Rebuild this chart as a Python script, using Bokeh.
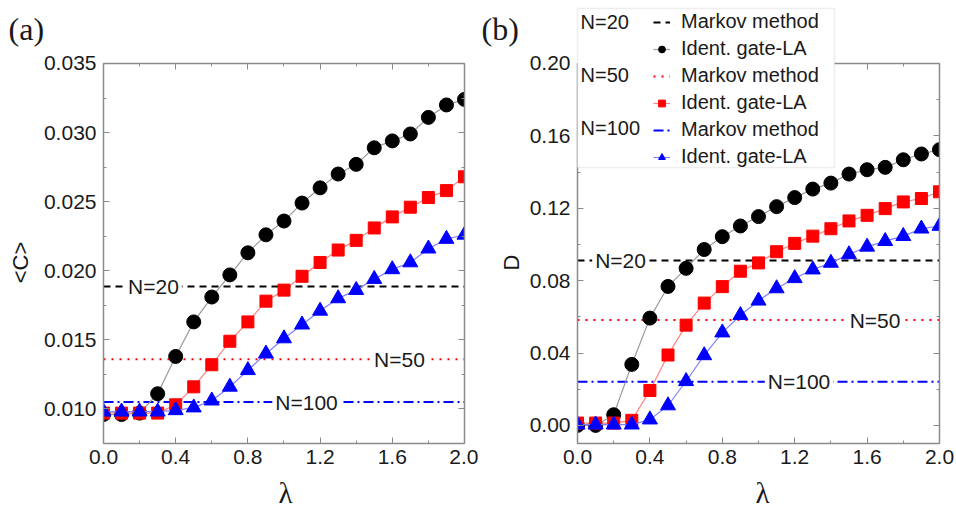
import math
from bokeh.plotting import figure
from bokeh.layouts import row
from bokeh.models import (FixedTicker, LinearAxis, Label, Legend, LegendItem,
                          BoxAnnotation, Range1d)
from bokeh.embed import file_html
from bokeh.resources import INLINE

# ---------------- data ----------------
lam = [0.0, 0.1, 0.2, 0.3, 0.4, 0.5, 0.6, 0.7, 0.8, 0.9, 1.0,
       1.1, 1.2, 1.3, 1.4, 1.5, 1.6, 1.7, 1.8, 1.9, 2.0]

# panel (a): <C>
a_n20 = [0.0096, 0.0096, 0.0097, 0.0111, 0.0138, 0.0163, 0.0181, 0.0197, 0.0213, 0.0226, 0.0236,
         0.0249, 0.0260, 0.0270, 0.0277, 0.0289, 0.0294, 0.0299, 0.0311, 0.0320, 0.0324]
a_n50 = [0.0097, 0.0097, 0.0097, 0.0097, 0.0103, 0.0116, 0.0132, 0.0149, 0.0163, 0.0178, 0.0186,
         0.0196, 0.0206, 0.0215, 0.0222, 0.0231, 0.0239, 0.0246, 0.0253, 0.0258, 0.0268]
a_n100 = [0.0098, 0.0098, 0.0098, 0.0098, 0.0099, 0.0101, 0.0106, 0.0116, 0.0128, 0.0140, 0.0151,
          0.0161, 0.0171, 0.0180, 0.0186, 0.0194, 0.0201, 0.0206, 0.0216, 0.0223, 0.0226]
a_markov = [0.01886, 0.0136, 0.0105]   # N=20, N=50, N=100

# panel (b): D
b_n20 = [0.0000, 0.0000, 0.0059, 0.0337, 0.0593, 0.0768, 0.0868, 0.0972, 0.1043, 0.1102, 0.1154,
         0.1209, 0.1259, 0.1306, 0.1339, 0.1389, 0.1413, 0.1426, 0.1468, 0.1500, 0.1524]
b_n50 = [0.0013, 0.0013, 0.0013, 0.0028, 0.0193, 0.0389, 0.0554, 0.0676, 0.0767, 0.0852, 0.0898,
         0.0960, 0.1006, 0.1046, 0.1087, 0.1130, 0.1161, 0.1198, 0.1235, 0.1254, 0.1291]
b_n100 = [0.0004, 0.0004, 0.0004, 0.0004, 0.0032, 0.0110, 0.0244, 0.0387, 0.0513, 0.0609, 0.0689,
          0.0757, 0.0813, 0.0861, 0.0898, 0.0945, 0.0987, 0.1018, 0.1046, 0.1087, 0.1102]
b_markov = [0.0911, 0.0582, 0.0241]

series_names = ["N=20", "N=50", "N=100"]

x_ticks = [0.0, 0.4, 0.8, 1.2, 1.6, 2.0]
x_tick_labels = ["0.0", "0.4", "0.8", "1.2", "1.6", "2.0"]
x_minor = [0.2, 0.6, 1.0, 1.4, 1.8]

a_y_ticks = [0.010, 0.015, 0.020, 0.025, 0.030, 0.035]
a_y_tick_labels = ["0.010", "0.015", "0.020", "0.025", "0.030", "0.035"]
a_y_minor = [0.0075, 0.0125, 0.0175, 0.0225, 0.0275, 0.0325]
a_y_lim = [0.0075, 0.035]

b_y_ticks = [0.00, 0.04, 0.08, 0.12, 0.16, 0.20]
b_y_tick_labels = ["0.00", "0.04", "0.08", "0.12", "0.16", "0.20"]
b_y_minor = [0.02, 0.06, 0.10, 0.14, 0.18]
b_y_lim = [-0.01, 0.20]

# ---------------- style ----------------
SANS = "Liberation Sans"
SERIF = "Liberation Serif"
FRAME = "#8a8a8a"
TXT = "#1a1a1a"
colors = ["black", "#ff0000", "#0000ff"]
link_colors = ["#9a9a9a", "#ff8080", "#8080ff"]
dashes = ["7 5", "2 6", "10 4 2 4"]
markers = ["circle", "square", "triangle"]
msizes = [14, 12, 15]
H = 510


def add_axes(p, yt, ytl, ym, ylim):
    xt = FixedTicker(ticks=x_ticks, minor_ticks=x_minor)
    ytk = FixedTicker(ticks=yt, minor_ticks=ym)
    bottom = LinearAxis(ticker=xt, fixed_location=ylim[0], bounds=(x_ticks[0], x_ticks[-1]),
                        major_label_overrides=dict(zip(x_ticks, x_tick_labels)))
    left = LinearAxis(ticker=ytk, fixed_location=x_ticks[0], bounds=(ylim[0], ylim[1]),
                      major_label_overrides=dict(zip(yt, ytl)))
    top = LinearAxis(ticker=FixedTicker(ticks=x_ticks, minor_ticks=x_minor),
                     fixed_location=ylim[1], bounds=(x_ticks[0], x_ticks[-1]),
                     major_label_overrides={t: "" for t in x_ticks})
    right = LinearAxis(ticker=FixedTicker(ticks=yt, minor_ticks=ym),
                       fixed_location=x_ticks[-1], bounds=(ylim[0], ylim[1]),
                       major_label_overrides={t: "" for t in yt})
    p.add_layout(bottom, "below")
    p.add_layout(left, "left")
    p.add_layout(top, "above")
    p.add_layout(right, "right")
    for ax in [bottom, left, top, right]:
        ax.axis_line_color = FRAME
        ax.axis_line_width = 1.5
        ax.major_tick_line_color = FRAME
        ax.minor_tick_line_color = FRAME
        ax.major_tick_in = 6
        ax.major_tick_out = 0
        ax.minor_tick_in = 3
        ax.minor_tick_out = 0
        ax.major_label_text_font = SANS
        ax.major_label_text_font_size = "21px"
        ax.major_label_text_color = TXT
        ax.major_label_standoff = 7


def make_panel(w, xr, yr, yt, ytl, ym, ylim, data, markov, line_labels):
    p = figure(width=w, height=H, x_range=Range1d(*xr), y_range=Range1d(*yr),
               output_backend="svg", toolbar_location=None, min_border=0,
               x_axis_location=None, y_axis_location=None)
    p.grid.visible = False
    p.outline_line_color = None
    mk_rs, pt_rs = [], []
    for i in range(3):
        r = p.line([lam[0], lam[-1]], [markov[i], markov[i]], line_color=colors[i],
                   line_width=2, line_dash=dashes[i])
        mk_rs.append(r)
    for i in range(3):
        l = p.line(lam, data[i], line_color=link_colors[i], line_width=1.2)
        s = p.scatter(lam, data[i], marker=markers[i], size=msizes[i],
                      fill_color=colors[i], line_color=colors[i])
        pt_rs.append([l, s])
    # markers are cut at the frame edges, as in the original
    p.add_layout(BoxAnnotation(right=x_ticks[0], fill_color="white", fill_alpha=1.0,
                               line_color=None, level="glyph"))
    p.add_layout(BoxAnnotation(left=x_ticks[-1], fill_color="white", fill_alpha=1.0,
                               line_color=None, level="glyph"))
    add_axes(p, yt, ytl, ym, ylim)
    for i, (lx, txt) in enumerate(line_labels):
        p.add_layout(Label(x=lx, y=markov[i], text=txt, text_font=SANS, text_font_size="21px",
                           text_color=TXT, text_align="center", text_baseline="middle",
                           background_fill_color="white", padding=3))
    return p, mk_rs, pt_rs


# ---------------- panel (a) ----------------
pa, _, _ = make_panel(478, (-0.5706, 2.0776), (0.002651, 0.039559),
                      a_y_ticks, a_y_tick_labels, a_y_minor, a_y_lim,
                      [a_n20, a_n50, a_n100], a_markov,
                      [(0.277, "N=20"), (1.64, "N=50"), (1.125, "N=100")])
pa.add_layout(Label(x=-0.526, y=0.03753, text="(a)", text_font=SERIF, text_font_size="32px",
                    text_baseline="middle", text_align="left", text_color=TXT))
pa.add_layout(Label(x=-0.46, y=0.0206, text="<C>", text_font=SANS, text_font_size="22px",
                    angle=math.pi / 2, text_align="center", text_baseline="middle",
                    text_color=TXT))
pa.add_layout(Label(x=1.008, y=0.00395, text="λ", text_font=SERIF, text_font_size="29px",
                    text_align="center", text_baseline="middle", text_color=TXT))

# ---------------- panel (b) ----------------
pb, mk_rs, pt_rs = make_panel(476, (-0.547, 2.0829), (-0.047029, 0.234816),
                              b_y_ticks, b_y_tick_labels, b_y_minor, b_y_lim,
                              [b_n20, b_n50, b_n100], b_markov,
                              [(0.238, "N=20"), (1.644, "N=50"), (1.224, "N=100")])
pb.add_layout(Label(x=-0.530, y=0.2193, text="(b)", text_font=SERIF, text_font_size="32px",
                    text_baseline="middle", text_align="left", text_color=TXT))
pb.add_layout(Label(x=-0.365, y=0.090, text="D", text_font=SANS, text_font_size="22px",
                    angle=math.pi / 2, text_align="center", text_baseline="middle",
                    text_color=TXT))
pb.add_layout(Label(x=1.022, y=-0.0371, text="λ", text_font=SERIF, text_font_size="29px",
                    text_align="center", text_baseline="middle", text_color=TXT))

# legend box (holds the N= group labels and the legend entries)
pb.add_layout(BoxAnnotation(left=0.0, right=1.42, top=0.2304, bottom=0.1425,
                            fill_color="white", fill_alpha=1.0, line_color="#c8c8c8",
                            line_width=1.5, level="annotation"))
items = []
for i in range(3):
    items.append(LegendItem(label="Markov method", renderers=[mk_rs[i]]))
    items.append(LegendItem(label="Ident. gate-LA", renderers=pt_rs[i]))
legend = Legend(items=items, location=(175, 342), padding=0, margin=0, spacing=4,
                glyph_width=17, glyph_height=20, label_height=20, label_standoff=11,
                label_text_font=SANS, label_text_font_size="20px", label_text_color=TXT,
                border_line_alpha=0, background_fill_alpha=0)
pb.add_layout(legend)
for i, yv in enumerate([0.2227, 0.1934, 0.1641]):
    pb.add_layout(Label(x=0.0166, y=yv, text=series_names[i], text_font=SANS,
                        text_font_size="20px", text_color=TXT,
                        text_align="left", text_baseline="middle"))

layout = row(pa, pb)
open("out.html", "w").write(file_html(layout, INLINE))
